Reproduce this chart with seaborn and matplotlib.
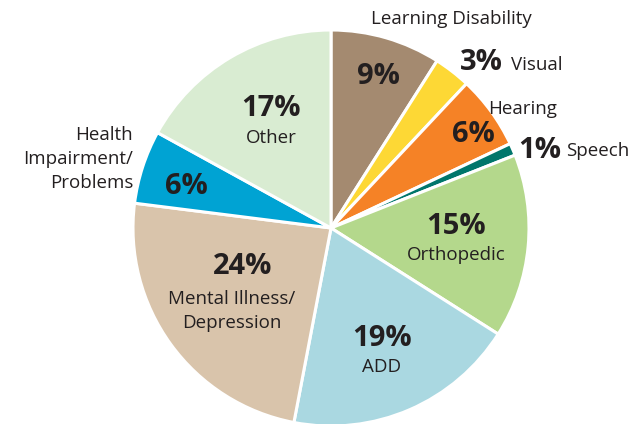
import matplotlib
matplotlib.use("Agg")
import matplotlib.pyplot as plt
import seaborn as sns

# data (percent, clockwise from 12 o'clock)
categories = ["Learning Disability", "Visual", "Hearing", "Speech", "Orthopedic",
              "ADD", "Mental Illness/\nDepression", "Health\nImpairment/\nProblems", "Other"]
shares = [9, 3, 6, 1, 15, 19, 24, 6, 17]
colors = ["#a48a70", "#fdd835", "#f58226", "#00766b", "#b4d88c",
          "#aad8e1", "#d9c4ab", "#00a3d3", "#d9ecd2"]

sns.set_theme(style="white")
plt.rcParams["font.family"] = ["Open Sans", "DejaVu Sans"]
TXT = "#231f20"

fig = plt.figure(figsize=(6.4, 4.24), dpi=100)
ax = fig.add_axes([0, 0, 1, 1])

cx, cy, r = 331, 228, 198
# y axis is inverted, so counterclock=True draws clockwise on screen
ax.pie(shares, colors=colors, startangle=-90, counterclock=True,
       center=(cx, cy), radius=r, frame=True,
       wedgeprops=dict(edgecolor="white", linewidth=2.2))
ax.set_xlim(0, 640)
ax.set_ylim(424, 0)
ax.set_aspect("equal")
ax.axis("off")

big = dict(fontsize=21, fontweight="bold", color=TXT, ha="center", va="center")
small = dict(fontsize=13.5, color=TXT, va="center")

# Learning Disability
ax.text(451, 19, "Learning Disability", ha="center", **small)
ax.text(378, 76, f"{shares[0]}%", **big)
# Visual
ax.text(481, 63, f"{shares[1]}%", **big)
ax.text(511, 65, "Visual", ha="left", **small)
# Hearing
ax.text(523, 109, "Hearing", ha="center", **small)
ax.text(473, 135, f"{shares[2]}%", **big)
# Speech
ax.text(540, 150, f"{shares[3]}%", **big)
ax.text(566, 151, "Speech", ha="left", **small)
# Orthopedic
ax.text(456, 227, f"{shares[4]}%", **big)
ax.text(456, 255, "Orthopedic", ha="center", **small)
# ADD
ax.text(382, 339, f"{shares[5]}%", **big)
ax.text(382, 367, "ADD", ha="center", **small)
# Mental illness
ax.text(243, 267, f"{shares[6]}%", **big)
ax.text(232, 311, categories[6], ha="center", linespacing=1.45, **small)
# Health impairment
ax.text(133, 159, categories[7], ha="right", linespacing=1.45, **small)
ax.text(186, 186, f"{shares[7]}%", **big)
# Other
ax.text(271, 109, f"{shares[8]}%", **big)
ax.text(271, 138, "Other", ha="center", **small)

fig.savefig("out.png", dpi=100)
